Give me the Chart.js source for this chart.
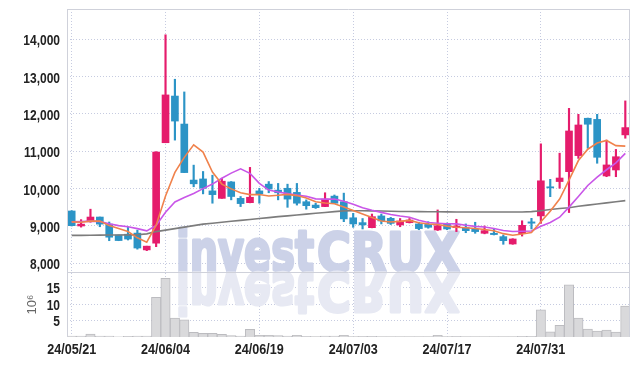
<!DOCTYPE html>
<html>
<head>
<meta charset="utf-8">
<script src="https://cdn.jsdelivr.net/npm/chart.js@4.4.1/dist/chart.umd.min.js"></script>
<style>
  html, body { margin: 0; padding: 0; background: #fff; }
  #wrap { width: 639px; height: 366px; }
</style>
</head>
<body>
<div id="wrap"><canvas id="priceChart" width="639" height="366"></canvas></div>
<script>
const dates = [
  '24/05/21','24/05/22','24/05/23','24/05/24','24/05/27','24/05/28','24/05/29','24/05/30','24/05/31','24/06/03',
  '24/06/04','24/06/05','24/06/07','24/06/10','24/06/11','24/06/12','24/06/13','24/06/14','24/06/17','24/06/18',
  '24/06/19','24/06/20','24/06/21','24/06/24','24/06/25','24/06/26','24/06/27','24/06/28','24/07/01','24/07/02',
  '24/07/03','24/07/04','24/07/05','24/07/08','24/07/09','24/07/10','24/07/11','24/07/12','24/07/15','24/07/16',
  '24/07/17','24/07/18','24/07/19','24/07/22','24/07/23','24/07/24','24/07/25','24/07/26','24/07/29','24/07/30',
  '24/07/31','24/08/01','24/08/02','24/08/05','24/08/06','24/08/07','24/08/08','24/08/09','24/08/12','24/08/13'
];

const opens = [
  9402, 9000, 9130, 9240, 9050, 8760, 8780, 8810, 8360, 8540,
  11230, 12480, 11730, 10230, 10260, 9940, 9740, 10180, 9740, 9625,
  9940, 10120, 9960, 10010, 9900, 9650, 9560, 9520, 9800, 9650,
  9220, 9090, 8955, 9270, 9205, 9027, 9090, 9055, 9045, 8893,
  9070, 8955, 8955, 8910, 8805, 8805, 8715, 8518, 8795, 9110,
  9270, 10050, 10190, 10455, 10885, 11885, 11855, 10340, 10500, 11440
];
const closes = [
  9008, 9050, 9240, 9050, 8700, 8610, 8650, 8410, 8460, 10980,
  12510, 11810, 10430, 10130, 10010, 9840, 10200, 9790, 9600, 9770,
  9860, 9990, 9890, 9720, 9610, 9545, 9490, 9720, 9610, 9190,
  9055, 9030, 9250, 9135, 9070, 9134, 9160, 8930, 8965, 9008,
  8920, 9000, 8875, 8850, 8875, 8770, 8607, 8652, 9018, 9075,
  10210, 10020, 10285, 11545, 11705, 11725, 10840, 10635, 10855, 11635
];
const highs = [
  9410, 9170, 9450, 9240, 9107, 8760, 8965, 8890, 8460, 10990,
  14120, 12930, 12590, 10630, 10460, 10360, 10280, 10190, 9790, 10570,
  10010, 10190, 10140, 10120, 10140, 9700, 9610, 9890, 9830, 9880,
  9340, 9200, 9320, 9320, 9230, 9200, 9200, 9100, 9115, 9430,
  9080, 9180, 9055, 9100, 9000, 8910, 8760, 8660, 9140, 9205,
  11200, 10250, 10950, 12150, 11990, 11890, 11990, 11300, 11050, 12350
];
const lows = [
  9000, 8970, 9100, 8980, 8606, 8606, 8625, 8380, 8340, 8446,
  11230, 11300, 10430, 10050, 9860, 9610, 9740, 9700, 9520, 9620,
  9610, 9890, 9700, 9500, 9560, 9450, 9470, 9517, 9600, 9115,
  8965, 8920, 8950, 9055, 9040, 8980, 9080, 8900, 8940, 8880,
  8900, 8850, 8820, 8805, 8790, 8760, 8510, 8510, 8730, 8920,
  9070, 9785, 10010, 9360, 10810, 11080, 10680, 10320, 10320, 11350
];

// volume in millions
const volumes = [
  0.3, 0.3, 0.9, 0.3, 0.3, 0.05, 0.2, 0.3, 0.3, 12.0,
  17.8, 5.7, 5.2, 1.4, 1.1, 1.1, 0.8, 0.4, 0.3, 2.3,
  0.5, 0.5, 0.4, 0.3, 0.5, 0.2, 0.1, 0.3, 0.3, 0.5,
  0.1, 0.2, 0.2, 0.1, 0.1, 0.1, 0.1, 0.1, 0.1, 0.5,
  0.1, 0.2, 0.1, 0.1, 0.1, 0.1, 0.1, 0.1, 0.2, 0.2,
  8.2, 1.6, 3.5, 15.8, 5.7, 2.4, 1.8, 2.1, 1.5, 9.4
];

// moving average lines (orange / purple / grey)
const ma5 = [
  9110, 9100, 9130, 9130, 9010, 8930, 8850, 8684, 8566, 9022,
  9802, 10434, 10838, 11172, 10978, 10444, 10122, 9994, 9888, 9840,
  9844, 9802, 9822, 9846, 9814, 9751, 9651, 9617, 9595, 9511,
  9413, 9321, 9227, 9132, 9108, 9124, 9150, 9086, 9052, 9039,
  8997, 8965, 8954, 8931, 8904, 8874, 8795, 8751, 8784, 8824,
  9112, 9395, 9722, 10227, 10753, 11056, 11220, 11290, 11152, 11138
];
const ma10 = [
  9110, 9120, 9130, 9120, 9060, 9010, 8980, 8930, 8870, 9016,
  9366, 9642, 9761, 9869, 10000, 10123, 10278, 10416, 10530, 10409,
  10144, 9962, 9908, 9867, 9827, 9798, 9727, 9720, 9721, 9663,
  9582, 9486, 9422, 9364, 9310, 9268, 9235, 9156, 9092, 9074,
  9060, 9057, 9020, 8991, 8972, 8935, 8880, 8852, 8858, 8864,
  8993, 9095, 9236, 9506, 9789, 10084, 10308, 10506, 10690, 10946
];
const maLong = [
  8750, 8750, 8752, 8755, 8758, 8760, 8763, 8767, 8790, 8850,
  8890, 8930, 8970, 9010, 9050, 9075, 9100, 9125, 9150, 9175,
  9200, 9225, 9250, 9272, 9295, 9318, 9340, 9362, 9385, 9405,
  9410, 9410, 9405, 9400, 9395, 9390, 9388, 9385, 9382, 9380,
  9378, 9376, 9375, 9375, 9375, 9375, 9375, 9375, 9375, 9385,
  9410, 9440, 9470, 9490, 9530, 9560, 9590, 9620, 9650, 9680
];

const priceTicks = [8000, 9000, 10000, 11000, 12000, 13000, 14000];
const volumeTicks = [5, 10, 15];

const upColor = '#e51c6c';
const downColor = '#2c94c6';
const gridColor = '#c6cbe0';
const labelFont = 'bold 15px "Liberation Sans", Arial, sans-serif';

const candleColors = closes.map((c, i) => c >= opens[i] ? upColor : downColor);

// narrow tick label, squeezed horizontally like the original condensed face
function drawLabel(ctx, text, x, y, align, squeeze) {
  ctx.save();
  ctx.translate(x, y);
  ctx.scale(squeeze, 1);
  ctx.textAlign = align;
  ctx.fillText(text, 0, 0);
  ctx.restore();
}

// frame, panel separator, watermark and tick labels
const framePlugin = {
  id: 'frame',
  beforeDatasetsDraw(chart) {
    const { ctx, scales } = chart;
    const base = scales.y.bottom;
    const parts = [
      { text: 'invest', x: 176, w: 138, h: 1.04 },
      { text: 'CRUX', x: 317, w: 143, h: 0.97 }
    ];
    ctx.save();
    ctx.font = 'bold 55px "DejaVu Sans"';
    ctx.textBaseline = 'alphabetic';
    ctx.lineJoin = 'round';
    ctx.lineWidth = 3;
    parts.forEach(p => {
      const sx = p.w / ctx.measureText(p.text).width;
      ctx.save();
      ctx.translate(p.x, base - 1);
      ctx.scale(sx, p.h);
      ctx.fillStyle = ctx.strokeStyle = 'rgb(204, 210, 232)';
      ctx.strokeText(p.text, 0, 0);
      ctx.fillText(p.text, 0, 0);
      ctx.translate(0, 2);
      ctx.scale(1, -1);
      ctx.fillStyle = ctx.strokeStyle = 'rgb(231, 233, 243)';
      ctx.strokeText(p.text, 0, 0);
      ctx.fillText(p.text, 0, 0);
      ctx.restore();
    });
    ctx.restore();
  },
  afterDraw(chart) {
    const { ctx, chartArea: a, scales } = chart;
    const sep = Math.round(scales.y.bottom) + 0.5;
    ctx.save();
    ctx.strokeStyle = '#cfd1da';
    ctx.lineWidth = 1;
    ctx.beginPath();
    ctx.moveTo(a.left + 0.5, a.top); ctx.lineTo(a.left + 0.5, a.bottom);
    ctx.moveTo(a.right - 0.5, a.top); ctx.lineTo(a.right - 0.5, a.bottom);
    ctx.moveTo(a.left, a.top + 0.5); ctx.lineTo(a.right, a.top + 0.5);
    ctx.moveTo(a.left, sep); ctx.lineTo(a.right, sep);
    ctx.stroke();

    ctx.fillStyle = '#222';
    ctx.font = labelFont;
    ctx.textBaseline = 'middle';
    priceTicks.forEach(v => {
      drawLabel(ctx, v.toLocaleString('en-US'), 60, scales.y.getPixelForValue(v) + 2, 'right', 0.8);
    });
    volumeTicks.forEach(v => {
      drawLabel(ctx, String(v), 60, scales.yv.getPixelForValue(v) + 1.5, 'right', 0.8);
    });
    ctx.textBaseline = 'alphabetic';
    dates.forEach((d, i) => {
      if (i % 10 === 0) drawLabel(ctx, d, scales.x.getPixelForValue(i), 354, 'center', 0.84);
    });
    ctx.restore();
  }
};

const ctx = document.getElementById('priceChart').getContext('2d');
new Chart(ctx, {
  type: 'bar',
  data: {
    labels: dates,
    datasets: [
      { type: 'line', label: 'MA5', data: ma5, borderColor: '#f0824c', borderWidth: 1.6, pointRadius: 0, tension: 0, yAxisID: 'y', order: 0 },
      { type: 'line', label: 'MA10', data: ma10, borderColor: '#c956e8', borderWidth: 1.6, pointRadius: 0, tension: 0, yAxisID: 'y', order: 0 },
      { type: 'line', label: 'MA60', data: maLong, borderColor: '#7c7c7c', borderWidth: 1.6, pointRadius: 0, tension: 0, yAxisID: 'y', order: 0 },
      { label: 'body', data: opens.map((o, i) => [o, closes[i]]), backgroundColor: candleColors, barThickness: 7, minBarLength: 1, grouped: false, yAxisID: 'y', order: 1 },
      { label: 'wick', data: lows.map((l, i) => [l, highs[i]]), backgroundColor: candleColors, barThickness: 1.5, grouped: false, yAxisID: 'y', order: 2 },
      { label: 'volume', data: volumes, backgroundColor: '#d9d9db', borderColor: '#bcbcc0', borderWidth: 1, barPercentage: 1, categoryPercentage: 1, grouped: false, yAxisID: 'yv', order: 3 }
    ]
  },
  options: {
    responsive: false,
    animation: false,
    layout: { padding: { top: 9, right: 9, left: 0, bottom: 0 } },
    plugins: { legend: { display: false }, tooltip: { enabled: false } },
    scales: {
      x: {
        offset: true,
        grid: { offset: false, drawTicks: false, color: c => c.index % 10 === 0 ? gridColor : 'transparent' },
        border: { display: false, dash: [1, 2] },
        ticks: { display: false, autoSkip: false },
        afterFit: s => { s.height = 29; }
      },
      yv: {
        stack: 'panel', stackWeight: 65, position: 'left',
        min: 0, max: 19.7,
        afterBuildTicks: s => { s.ticks = volumeTicks.map(v => ({ value: v })); },
        grid: { drawTicks: false, color: gridColor },
        border: { display: false, dash: [1, 2] },
        ticks: { display: false, autoSkip: false },
        title: { display: true, text: '10⁶', color: '#666', font: { family: '"Liberation Sans", sans-serif', size: 13 }, padding: { top: 25, bottom: 0 } },
        afterFit: s => { s.width = 67; }
      },
      y: {
        stack: 'panel', stackWeight: 263, position: 'left',
        min: 7768, max: 14811,
        afterBuildTicks: s => { s.ticks = priceTicks.map(v => ({ value: v })); },
        grid: { drawTicks: false, color: gridColor },
        border: { display: false, dash: [1, 2] },
        ticks: { display: false, autoSkip: false },
        afterFit: s => { s.width = 67; }
      }
    }
  },
  plugins: [framePlugin]
});
</script>
</body>
</html>
